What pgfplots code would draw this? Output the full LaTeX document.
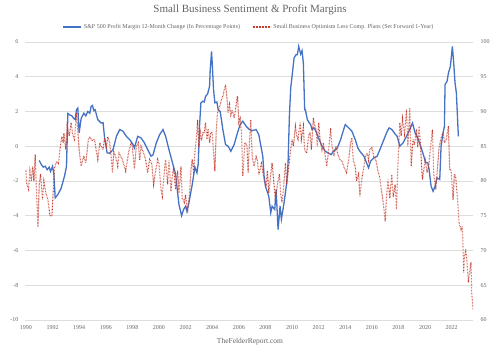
\documentclass[border=0pt]{standalone}
\usepackage{fontspec}
\setmainfont{Liberation Serif}
\usepackage{pgfplots}
\pgfplotsset{compat=1.18}
\definecolor{txt}{RGB}{100,100,100}
\definecolor{gridc}{RGB}{222,222,222}
\definecolor{bluel}{RGB}{68,114,196}
\definecolor{redl}{RGB}{196,60,45}
\begin{document}
\begin{tikzpicture}
\path[use as bounding box] (0,0) rectangle (500pt,350pt);
\begin{axis}[
  at={(25pt,30pt)}, anchor=south west,
  scale only axis, width=448pt, height=278pt,
  xmin=1989.93, xmax=2023.6,
  ymin=-10, ymax=6,
  ytick={-10,-8,...,6},
  xtick={1990,1992,...,2022},
  axis line style={draw=none},
  major tick length=0pt,
  ymajorgrids, grid style={gridc, line width=0.8pt},
  tick label style={font=\fontsize{6}{7}\selectfont, text=txt},
  /pgf/number format/assume math mode=true,
  /pgf/number format/1000 sep={},
  xticklabel style={yshift=-2pt},
  yticklabel style={xshift=-3pt},
  axis y line*=left, axis x line*=bottom,
]
\addplot[bluel, line width=1.3pt] coordinates {
(1991.0,-0.82)(1991.15,-1.05)(1991.3,-1.2)(1991.45,-1.15)(1991.6,-1.35)(1991.75,-1.2)(1991.85,-1.45)(1992.0,-1.15)(1992.1,-1.6)(1992.2,-2.97)(1992.4,-2.78)(1992.65,-2.4)(1992.9,-1.72)(1993.05,-1.15)(1993.15,1.88)(1993.3,1.8)(1993.45,1.75)(1993.6,1.6)(1993.7,1.53)(1993.8,2.1)(1993.9,2.2)(1994.0,0.78)(1994.15,1.6)(1994.35,1.9)(1994.5,1.75)(1994.65,2.0)(1994.8,1.9)(1994.9,2.3)(1995.0,2.35)(1995.1,2.05)(1995.2,2.1)(1995.4,1.53)(1995.65,1.34)(1995.8,1.35)(1995.9,0.57)(1996.1,-0.38)(1996.3,-0.4)(1996.55,-0.19)(1996.8,0.57)(1997.05,0.96)(1997.3,0.86)(1997.55,0.57)(1997.8,0.38)(1998.05,0.1)(1998.15,-0.1)(1998.4,0.57)(1998.65,0.48)(1998.9,0.2)(1999.15,-0.19)(1999.4,-0.57)(1999.55,-0.5)(1999.8,0.2)(2000.05,0.67)(2000.3,0.96)(2000.5,0.57)(2000.75,-0.19)(2000.95,-0.77)(2001.1,-1.2)(2001.25,-1.6)(2001.4,-2.68)(2001.5,-3.35)(2001.7,-4.0)(2001.85,-3.64)(2002.0,-3.45)(2002.1,-3.74)(2002.25,-3.25)(2002.5,-2.2)(2002.7,-1.2)(2002.85,-1.53)(2002.95,-1.0)(2003.05,1.2)(2003.15,2.5)(2003.3,2.59)(2003.4,2.55)(2003.5,2.87)(2003.65,3.0)(2003.8,3.45)(2003.85,4.4)(2003.95,5.46)(2004.0,4.8)(2004.1,3.26)(2004.2,2.5)(2004.35,2.55)(2004.45,2.1)(2004.6,2.0)(2004.8,0.96)(2005.0,0.1)(2005.2,0.0)(2005.4,-0.29)(2005.65,0.1)(2005.9,0.77)(2006.1,1.25)(2006.3,1.44)(2006.55,1.15)(2006.8,0.96)(2007.0,0.9)(2007.3,0.96)(2007.5,0.67)(2007.8,-0.57)(2007.9,-1.72)(2008.0,-2.3)(2008.25,-2.87)(2008.4,-3.83)(2008.5,-3.45)(2008.7,-3.64)(2008.8,-2.49)(2008.95,-4.79)(2009.1,-3.45)(2009.2,-4.2)(2009.4,-3.25)(2009.6,-2.1)(2009.7,-0.95)(2009.8,1.72)(2009.9,3.36)(2010.0,4.02)(2010.15,5.08)(2010.3,5.27)(2010.4,5.27)(2010.5,5.75)(2010.65,5.3)(2010.75,5.5)(2010.85,4.79)(2010.95,2.1)(2011.0,2.1)(2011.15,1.53)(2011.3,1.34)(2011.4,1.25)(2011.5,0.96)(2011.65,1.06)(2011.8,0.86)(2012.0,0.45)(2012.25,0.0)(2012.5,-0.29)(2012.7,-0.38)(2012.95,-0.48)(2013.1,-0.29)(2013.4,-0.1)(2013.65,0.38)(2013.8,0.77)(2014.0,1.25)(2014.25,1.06)(2014.5,0.86)(2014.75,0.38)(2014.95,-0.1)(2015.1,-0.29)(2015.4,-0.57)(2015.65,-1.05)(2015.75,-1.24)(2015.9,-0.86)(2016.15,-0.67)(2016.4,-0.57)(2016.65,-0.1)(2016.9,0.38)(2017.15,0.86)(2017.3,1.06)(2017.5,0.96)(2017.75,0.7)(2017.9,0.57)(2018.1,0.0)(2018.35,0.2)(2018.6,0.57)(2018.85,0.96)(2019.05,1.34)(2019.25,0.77)(2019.5,0.38)(2019.75,-0.19)(2019.9,-0.57)(2020.05,-0.95)(2020.2,-0.95)(2020.3,-1.34)(2020.45,-2.3)(2020.6,-2.59)(2020.75,-2.3)(2020.9,-1.82)(2021.1,-1.91)(2021.2,0.0)(2021.35,0.77)(2021.45,1.15)(2021.5,3.55)(2021.65,3.74)(2021.75,4.2)(2021.9,4.6)(2022.0,5.36)(2022.05,5.75)(2022.15,4.79)(2022.25,3.64)(2022.35,3.07)(2022.5,0.57)
};
\end{axis}
\begin{axis}[
  at={(25pt,30pt)}, anchor=south west,
  scale only axis, width=448pt, height=278pt,
  xmin=1989.93, xmax=2023.6,
  ymin=60, ymax=100,
  ytick={60,65,...,100},
  axis x line=none,
  axis y line*=right,
  axis line style={draw=none},
  major tick length=0pt,
  tick label style={font=\fontsize{6}{7}\selectfont, text=txt},
  /pgf/number format/assume math mode=true,
  yticklabel style={xshift=4pt},
  legend style={draw=none, fill=none, at={(0.5,1.054)}, anchor=center,
    font=\fontsize{6}{7}\selectfont, text=txt, /tikz/every even column/.append style={column sep=10pt}},
  legend columns=2,
  legend image code/.code={\draw[#1] (0pt,0pt) -- (18pt,0pt);},
]
\addlegendimage{bluel, line width=1.3pt}
\addlegendentry{S\&P 500 Profit Margin 12-Month Change (In Percentage Points)}
\addplot[redl, line width=1.1pt, dash pattern=on 0.6pt off 0.9pt] coordinates {
(1990.0,81.6)(1990.05,79.7)(1990.2,78.8)(1990.3,81.4)(1990.4,80.0)(1990.5,82.1)(1990.6,80.0)(1990.7,83.8)(1990.8,78.3)(1990.9,73.3)(1991.0,79.6)(1991.1,81.0)(1991.25,77.3)(1991.35,80.0)(1991.5,78.3)(1991.65,77.3)(1991.8,75.0)(1991.95,75.0)(1992.05,78.3)(1992.15,81.9)(1992.3,82.8)(1992.45,82.5)(1992.55,84.5)(1992.7,86.4)(1992.8,85.5)(1992.85,86.9)(1993.0,84.5)(1993.1,87.9)(1993.25,86.5)(1993.4,88.4)(1993.5,86.8)(1993.65,86.0)(1993.8,89.8)(1994.0,84.5)(1994.15,82.1)(1994.35,83.6)(1994.5,82.6)(1994.7,86.0)(1994.8,86.4)(1994.95,85.8)(1995.15,86.0)(1995.4,83.1)(1995.55,85.5)(1995.65,85.0)(1995.8,84.5)(1995.9,86.2)(1996.05,85.0)(1996.15,86.4)(1996.3,85.5)(1996.4,83.6)(1996.5,81.2)(1996.6,84.2)(1996.75,83.5)(1996.9,82.1)(1997.0,84.0)(1997.25,83.1)(1997.5,81.4)(1997.7,84.0)(1997.9,85.5)(1998.0,85.0)(1998.15,81.7)(1998.3,85.0)(1998.45,85.5)(1998.55,83.0)(1998.65,85.0)(1998.85,84.0)(1999.0,83.0)(1999.15,81.2)(1999.3,83.1)(1999.45,82.5)(1999.6,79.5)(1999.75,81.5)(1999.9,83.1)(2000.0,82.5)(2000.15,78.8)(2000.25,77.8)(2000.4,81.5)(2000.5,83.1)(2000.65,79.5)(2000.75,83.0)(2000.9,78.5)(2001.0,80.7)(2001.1,82.0)(2001.25,78.8)(2001.4,81.5)(2001.5,78.3)(2001.65,82.1)(2001.75,77.5)(2001.9,76.9)(2002.0,78.0)(2002.15,75.4)(2002.3,78.5)(2002.4,81.6)(2002.5,83.1)(2002.6,81.0)(2002.7,84.1)(2002.8,86.0)(2002.9,88.8)(2003.0,84.8)(2003.1,87.0)(2003.2,85.8)(2003.3,87.0)(2003.4,86.9)(2003.5,88.4)(2003.6,86.0)(2003.7,87.5)(2003.8,85.5)(2003.9,87.0)(2004.0,87.0)(2004.1,84.0)(2004.2,81.4)(2004.3,87.0)(2004.4,89.8)(2004.55,90.7)(2004.7,91.7)(2004.8,92.2)(2005.0,93.9)(2005.1,92.0)(2005.2,89.8)(2005.3,91.0)(2005.4,89.5)(2005.5,90.2)(2005.65,89.1)(2005.8,91.0)(2005.9,92.2)(2006.0,88.4)(2006.1,89.0)(2006.2,87.0)(2006.3,80.7)(2006.45,85.5)(2006.6,85.2)(2006.7,81.2)(2006.8,85.5)(2006.9,88.8)(2007.0,83.5)(2007.15,82.1)(2007.3,83.5)(2007.4,83.0)(2007.5,80.9)(2007.7,82.5)(2007.9,80.2)(2008.05,79.2)(2008.15,81.5)(2008.25,78.3)(2008.4,81.0)(2008.5,82.6)(2008.6,80.5)(2008.75,77.3)(2008.9,79.5)(2009.05,81.0)(2009.15,78.0)(2009.25,76.9)(2009.35,78.8)(2009.5,82.6)(2009.6,79.5)(2009.75,82.0)(2009.9,84.5)(2010.0,86.0)(2010.1,85.0)(2010.25,87.9)(2010.35,86.5)(2010.45,86.0)(2010.6,88.4)(2010.7,86.0)(2010.85,87.9)(2010.95,84.5)(2011.1,84.0)(2011.25,86.5)(2011.35,87.0)(2011.45,84.5)(2011.6,89.1)(2011.7,88.0)(2011.8,87.5)(2011.9,85.0)(2012.0,88.4)(2012.1,86.0)(2012.25,84.5)(2012.35,85.5)(2012.5,83.6)(2012.6,82.1)(2012.7,83.5)(2012.9,87.6)(2013.0,85.0)(2013.15,83.8)(2013.3,85.0)(2013.45,83.8)(2013.6,83.1)(2013.75,82.8)(2013.9,82.0)(2014.1,81.2)(2014.25,83.0)(2014.4,85.5)(2014.5,86.2)(2014.6,83.0)(2014.75,82.0)(2014.85,80.0)(2015.0,81.0)(2015.1,77.8)(2015.25,80.5)(2015.4,82.0)(2015.5,83.5)(2015.65,84.0)(2015.75,83.0)(2015.85,84.5)(2016.0,84.8)(2016.15,83.5)(2016.3,83.0)(2016.45,81.5)(2016.6,80.5)(2016.7,78.8)(2016.85,77.0)(2017.0,74.2)(2017.1,77.5)(2017.2,80.2)(2017.35,77.5)(2017.5,80.9)(2017.6,77.7)(2017.75,79.5)(2017.85,75.9)(2017.95,82.0)(2018.1,88.4)(2018.2,86.5)(2018.3,89.0)(2018.45,86.8)(2018.6,90.3)(2018.7,85.0)(2018.85,90.5)(2018.95,82.1)(2019.1,86.0)(2019.2,85.2)(2019.35,87.5)(2019.45,84.8)(2019.55,87.9)(2019.65,85.0)(2019.8,80.2)(2019.9,81.5)(2020.0,83.0)(2020.15,81.2)(2020.3,82.5)(2020.4,84.8)(2020.55,87.4)(2020.65,81.0)(2020.8,78.8)(2020.9,81.2)(2021.05,84.8)(2021.2,86.2)(2021.35,87.0)(2021.45,85.5)(2021.6,86.0)(2021.75,87.9)(2021.85,81.6)(2021.95,81.6)(2022.1,77.3)(2022.2,81.0)(2022.3,80.7)(2022.45,77.0)(2022.55,74.0)(2022.7,73.0)(2022.8,73.5)(2022.85,70.6)(2022.9,66.8)(2022.95,69.0)(2023.05,70.2)(2023.15,68.3)(2023.25,65.4)(2023.35,67.0)(2023.45,68.3)(2023.5,64.0)(2023.6,61.5)
};
\addlegendentry{Small Business Optimism Less Comp. Plans (Set Forward 1-Year)}
\end{axis}
\node[text=txt, font=\fontsize{11}{13}\selectfont] at (250pt,340pt) {Small Business Sentiment \& Profit Margins};
\node[text=txt, font=\fontsize{7.5}{9}\selectfont] at (250pt,8pt) {TheFelderReport.com};
\end{tikzpicture}
\end{document}
